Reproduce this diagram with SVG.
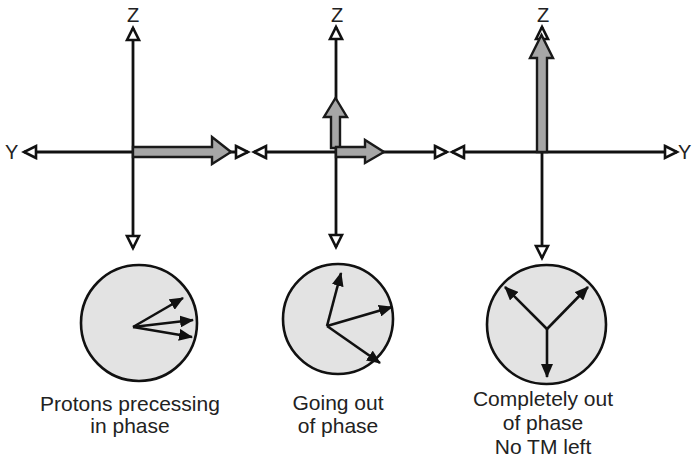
<svg xmlns="http://www.w3.org/2000/svg" width="696" height="461" viewBox="0 0 696 461">
<style>
.ax{stroke:#111;stroke-width:2.8;fill:none;marker-start:url(#open);marker-end:url(#open)}
.big{fill:#a6a6a6;stroke:#1a1a1a;stroke-width:2.4;stroke-linejoin:miter}
.circ{fill:#e3e3e3;stroke:#111;stroke-width:2.6}
.vec{stroke:#111;stroke-width:2.6;fill:none;marker-end:url(#solid)}
text{font-family:"Liberation Sans",Arial,sans-serif;fill:#222}
.lbl{font-size:21px;text-anchor:middle}
.axl{font-size:20px}
</style>
<defs>
<marker id="open" markerUnits="userSpaceOnUse" markerWidth="18" markerHeight="18" viewBox="-3 -3 18 18" refX="12" refY="6" orient="auto-start-reverse">
<path d="M0,0 L12,6 L0,12 Z" fill="#fff" stroke="#111" stroke-width="2.6"/>
</marker>
<marker id="solid" markerUnits="userSpaceOnUse" markerWidth="14" markerHeight="12" viewBox="0 0 14 12" refX="13" refY="6" orient="auto">
<path d="M0,0 L14,6 L0,12 Z" fill="#111"/>
</marker>
</defs>
<g id="connectors">
<line class="ax" x1="24" y1="152" x2="248" y2="152"/>
<line class="ax" x1="133" y1="28" x2="133" y2="248"/>
<line class="ax" x1="254" y1="152" x2="447" y2="152"/>
<line class="ax" x1="336" y1="27" x2="336" y2="247"/>
<line class="ax" x1="452" y1="152" x2="677" y2="152"/>
<line class="ax" x1="542" y1="27" x2="542" y2="258"/>
</g>
<g id="panel1">
<text class="axl" x="133" y="22" text-anchor="middle">Z</text>
<text class="axl" x="5" y="159">Y</text>
<polygon class="big" points="133,147 212,147 212,137 231,152 212,164 212,157 133,157"/>
<circle class="circ" cx="139" cy="323" r="58"/>
<line class="vec" x1="133" y1="327" x2="183" y2="298"/>
<line class="vec" x1="133" y1="327" x2="193" y2="320"/>
<line class="vec" x1="133" y1="327" x2="192" y2="337"/>
<text class="lbl" x="130" y="411">Protons precessing</text>
<text class="lbl" x="130" y="433">in phase</text>
</g>
<g id="panel2">
<text class="axl" x="337" y="22" text-anchor="middle">Z</text>
<polygon class="big" points="331,148 331,117 324,117 335.5,98 347,117 340,117 340,148"/>
<polygon class="big" points="336,147 365,147 365,140 384,152 365,163 365,157 336,157"/>
<circle class="circ" cx="338" cy="319" r="55"/>
<line class="vec" x1="327" y1="326" x2="341" y2="273"/>
<line class="vec" x1="327" y1="326" x2="392" y2="307"/>
<line class="vec" x1="327" y1="326" x2="380" y2="363"/>
<text class="lbl" x="338" y="410">Going out</text>
<text class="lbl" x="338" y="433">of phase</text>
</g>
<g id="panel3">
<text class="axl" x="543" y="22" text-anchor="middle">Z</text>
<text class="axl" x="678" y="159">Y</text>
<polygon class="big" points="537,152 537,58 530,58 541.5,35 553,58 547,58 547,152"/>
<circle class="circ" cx="546.5" cy="324.5" r="59.5"/>
<line class="vec" x1="547" y1="329" x2="505" y2="287"/>
<line class="vec" x1="547" y1="329" x2="588" y2="287"/>
<line class="vec" x1="547" y1="329" x2="547" y2="377"/>
<text class="lbl" x="543" y="406">Completely out</text>
<text class="lbl" x="543" y="430">of phase</text>
<text class="lbl" x="543" y="454">No TM left</text>
</g>
</svg>
